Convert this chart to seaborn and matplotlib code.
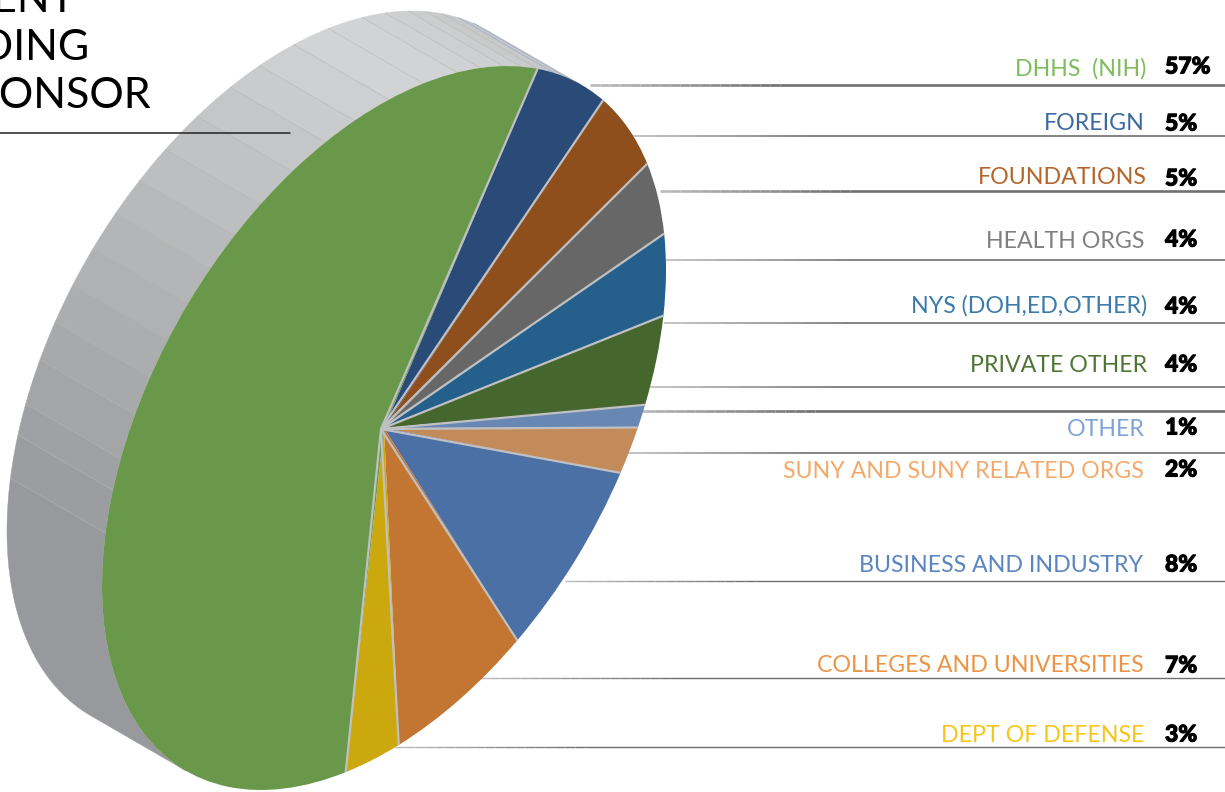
import numpy as np
import matplotlib
matplotlib.use("Agg")
import matplotlib.pyplot as plt
import matplotlib.patheffects as pe
from matplotlib.collections import LineCollection
from matplotlib.transforms import Affine2D
import seaborn as sns

sponsors = ["FOREIGN", "FOUNDATIONS", "HEALTH ORGS", "NYS (DOH,ED,OTHER)", "PRIVATE OTHER",
            "OTHER", "SUNY AND SUNY RELATED ORGS", "BUSINESS AND INDUSTRY",
            "COLLEGES AND UNIVERSITIES", "DEPT OF DEFENSE", "DHHS  (NIH)"]
shares = [5, 5, 4, 4, 4, 1, 2, 8, 7, 3, 57]
slice_colors = ["#2a4a78", "#8f4f1d", "#666766", "#255f8b", "#45672e", "#6887b3",
                "#c38a5a", "#4a70a6", "#c27631", "#cca80f", "#69984a"]
label_colors = ["#3d6a9e", "#b5652b", "#808080", "#3a7bab", "#4f7535", "#7fa3d6",
                "#f4a96b", "#5b85c0", "#ec9444", "#f5c518", "#7dbd5e"]
label_right = [1145, 1147, 1144, 1147, 1147, 1145, 1144, 1143, 1144, 1144, 1146]
label_y = [121, 176, 240, 304, 363, 427, 469, 564, 663, 733, 67]
share_y = [122, 177, 238, 305, 363, 426, 468, 563, 664, 733, 65]

# Leader rules: height, start of the rule, width in points
rule_y = [85, 136, 191, 260, 323, 387, 411, 453, 581, 678, 747]
rule_x0 = [590, 625, 660, 666, 664, 650, 625, 625, 565, 480, 395]
rule_w = [1.9, 1.2, 1.9, 1.2, 1.2, 1.2, 1.9, 1.2, 1.0, 1.0, 1.0]

# Facet boundaries of the extruded rim, in degrees on the tilted disc;
# the two ends are where the extrusion direction is tangent to the ellipse
facet_deg = [-45.4, -49, -53, -57, -61, -65, -70, -75, -82, -89, -96, -102, -109, -116,
             -122, -128, -134, -140, -146, -152, -159, -164, -171, -225.4]

title_lines = ["PERCENT", "FUNDING", "BY SPONSOR"]
title_end = [75, 89, 151]
title_base = [12, 60, 108]

sns.set_theme(style="white")
plt.rcParams["font.family"] = ["Lato", "DejaVu Sans"]

fig = plt.figure(figsize=(12.25, 7.92), dpi=100)
ax = fig.add_axes([0, 0, 1, 1])

wedges, _ = ax.pie(shares, colors=slice_colors, startangle=57, counterclock=False,
                   wedgeprops={"linewidth": 0})
ax.set_aspect("auto")
ax.set_xlim(0, 1225)
ax.set_ylim(792, 0)
ax.axis("off")

# The unit-circle pie is sheared into the tilted ellipse
cx, cy = 384, 428
tilt = np.array([[282.0, 0.0], [-158.0, -325.7]])
disc = Affine2D(np.array([[tilt[0, 0], tilt[0, 1], cx],
                          [tilt[1, 0], tilt[1, 1], cy],
                          [0, 0, 1]]))
for w in wedges:
    w.set_transform(disc + ax.transData)
    w.set_zorder(5)


def on_disc(deg):
    """Pixel position of a rim point; negative degrees run up and over the top."""
    t = np.radians(np.asarray(deg, dtype=float))
    return disc.transform(np.column_stack([np.cos(t), -np.sin(t)]))


# Extruded rim, one shaded quad per facet
depth = np.array([-95.0, -55.0])
n_facets = len(facet_deg) - 1
rim_top = sns.blend_palette(["#c3c4c6", "#d2d3d5"], 8)
rim_low = sns.blend_palette(["#d2d3d5", "#b4b5b7", "#98999c"], n_facets - 8)
rim_cols = list(rim_top) + list(rim_low)
for i in range(n_facets):
    arc = np.linspace(facet_deg[i], facet_deg[i + 1], 60)
    front = on_disc(arc)
    back = front + depth
    poly = np.vstack([front, back[::-1]])
    ax.fill(poly[:, 0], poly[:, 1], color=rim_cols[i], lw=0.3, ec=rim_cols[i], zorder=2)
for deg in facet_deg[1:-1]:
    seam = on_disc([deg])[0]
    seam_col = "#8fa3c0" if deg > -57 else "#b4b5a6"
    ax.plot([seam[0], seam[0] + depth[0]], [seam[1], seam[1] + depth[1]],
            color=seam_col, lw=0.45, alpha=0.8, zorder=3)

# Separators between slices
edges = 57 - 3.6 * np.cumsum([0] + shares[:-1])
for a in edges:
    rim = on_disc([-a])[0]
    ax.plot([cx - 3, rim[0]], [cy + 1, rim[1]], color="#bfc0c2", lw=1.6,
            solid_capstyle="butt", zorder=6)

# Leader rules fade in from the disc towards the right margin
fade = sns.blend_palette(["#b9babc", "#6f7072"], 19)
for y, x0, lw in zip(rule_y, rule_x0, rule_w):
    xs = np.arange(x0, x0 + 191, 10)
    segs = [[(xs[k], y), (xs[k + 1], y)] for k in range(19)]
    ax.add_collection(LineCollection(segs, colors=fade, linewidths=lw, capstyle="butt", zorder=1))
    ax.plot([x0 + 190, 1225], [y, y], color="#6f7072", lw=lw, solid_capstyle="butt", zorder=1)

# Sponsor names and shares
heavy = [pe.withStroke(linewidth=0.8, foreground="black")]
for name, share, col, xr, yl, ys in zip(sponsors, shares, label_colors, label_right, label_y, share_y):
    ax.text(xr, yl, name, color=col, fontsize=16.7, ha="right", va="center_baseline",
            fontweight="normal", zorder=8)
    ax.text(1165, ys, f"{share}%", color="black", fontsize=16.5, ha="left", va="center_baseline",
            fontweight="black", zorder=8, path_effects=heavy)

# Title block runs off the left edge
for line, xe, yb in zip(title_lines, title_end, title_base):
    ax.text(xe, yb, line, color="black", fontsize=31, ha="right", va="baseline",
            fontweight="normal", zorder=8)
ax.plot([0, 290], [133, 133], color="#222222", lw=1.1, zorder=7)

fig.savefig("out.png", dpi=100)
